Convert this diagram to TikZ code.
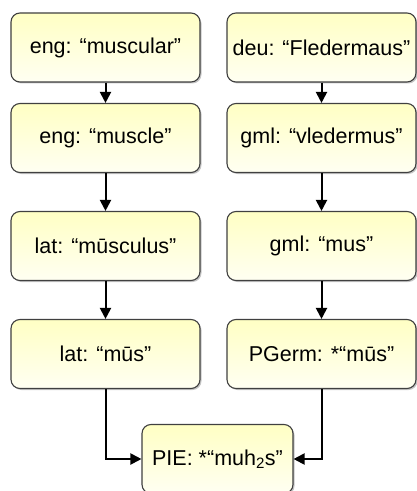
\documentclass[tikz,border=0pt]{standalone}
\usepackage{fontspec}
\setmainfont{Liberation Sans}
\usetikzlibrary{arrows.meta,shadows}

\definecolor{boxtop}{HTML}{FFFFC4}
\definecolor{boxbot}{HTML}{FFFFF2}
\definecolor{boxline}{HTML}{404040}

\tikzset{
  word/.style={draw=boxline, line width=1.1bp, rounded corners=9bp,
    top color=boxtop, bottom color=boxbot,
    drop shadow={shadow xshift=1.5bp, shadow yshift=-1.5bp, fill=black!45},
    minimum width=189bp, minimum height=69bp, inner sep=0pt,
    font=\fontsize{21.5bp}{25bp}\selectfont},
  link/.style={line width=2bp, -{Triangle[length=11bp,width=11bp]}}
}

\begin{document}
\begin{tikzpicture}[x=1bp,y=-1bp]
\useasboundingbox (0,0) rectangle (416,491);

\node[word] (engMuscular) at (105.5,47.5) {eng: “muscular”};
\node[word] (engMuscle) at (105.5,138) {eng: “muscle”};
\node[word] (latMusculus) at (105.5,246) {lat: “mūsculus”};
\node[word] (latMus) at (105.5,354) {lat: “mūs”};

\node[word] (deuFledermaus) at (321.5,47.5) {deu: “Fledermaus”};
\node[word] (gmlVledermus) at (321.5,138) {gml: “vledermus”};
\node[word] (gmlMus) at (321.5,246) {gml: “mus”};
\node[word] (pgermMus) at (321.5,354) {PGerm: *“mūs”};

\node[word, minimum width=151bp] (pie) at (217.5,459) {PIE: *“muh\textsubscript{2}s”};

\draw[link] (engMuscular) -- (engMuscle);
\draw[link] (engMuscle) -- (latMusculus);
\draw[link] (latMusculus) -- (latMus);
\draw[link] (latMus) |- (pie);

\draw[link] (deuFledermaus) -- (gmlVledermus);
\draw[link] (gmlVledermus) -- (gmlMus);
\draw[link] (gmlMus) -- (pgermMus);
\draw[link] (pgermMus) |- (pie);

\end{tikzpicture}
\end{document}
